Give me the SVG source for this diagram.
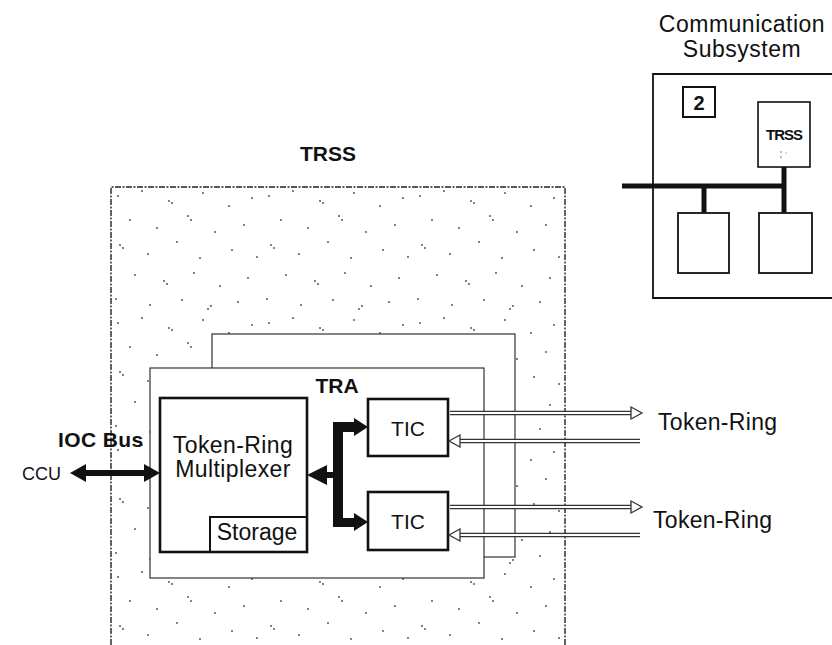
<svg xmlns="http://www.w3.org/2000/svg" width="832" height="645" viewBox="0 0 832 645">
<defs>
<pattern id="stipple" x="111" y="187" width="151" height="127" patternUnits="userSpaceOnUse">
<g fill="#444">
<circle cx="7" cy="9" r="0.9"/><circle cx="31" cy="4" r="0.9"/><circle cx="58" cy="14" r="0.9"/><circle cx="61" cy="16" r="0.9"/><circle cx="92" cy="6" r="0.9"/><circle cx="118" cy="19" r="0.9"/><circle cx="141" cy="11" r="0.9"/>
<circle cx="19" cy="33" r="0.9"/><circle cx="46" cy="41" r="0.9"/><circle cx="77" cy="29" r="0.9"/><circle cx="80" cy="33" r="0.9"/><circle cx="104" cy="45" r="0.9"/><circle cx="133" cy="38" r="0.9"/>
<circle cx="9" cy="58" r="0.9"/><circle cx="12" cy="61" r="0.9"/><circle cx="37" cy="67" r="0.9"/><circle cx="66" cy="55" r="0.9"/><circle cx="89" cy="71" r="0.9"/><circle cx="121" cy="63" r="0.9"/><circle cx="146" cy="70" r="0.9"/>
<circle cx="24" cy="88" r="0.9"/><circle cx="53" cy="94" r="0.9"/><circle cx="56" cy="97" r="0.9"/><circle cx="83" cy="86" r="0.9"/><circle cx="109" cy="99" r="0.9"/><circle cx="137" cy="91" r="0.9"/>
<circle cx="5" cy="112" r="0.9"/><circle cx="39" cy="118" r="0.9"/><circle cx="71" cy="113" r="0.9"/><circle cx="97" cy="122" r="0.9"/><circle cx="100" cy="119" r="0.9"/><circle cx="127" cy="115" r="0.9"/>
</g>
</pattern>
</defs>
<style>
text{font-family:"Liberation Sans",Arial,sans-serif;fill:#111}
.lbl{font-size:23px}
.b{font-weight:bold}
.card{fill:#fff;stroke:#333;stroke-width:1.2}
.box{fill:#fff;stroke:#111;stroke-width:2.6}
.thin{fill:#fff;stroke:#111;stroke-width:1.8}
.dl-o{stroke:#333;stroke-width:4.6;fill:none}
.dl-i{stroke:#fff;stroke-width:2;fill:none}
.ah{fill:#fff;stroke:#333;stroke-width:1.3}
</style>
<rect width="832" height="645" fill="#fff"/>

<g id="trss">
<rect x="111" y="187" width="454" height="460" fill="url(#stipple)"/>
<path d="M111,645 V187 H565 V645" fill="none" stroke="#222" stroke-width="1.4" stroke-dasharray="6 1.5 2 1.5"/>
<text x="328" y="161" class="b" font-size="21" text-anchor="middle">TRSS</text>
</g>

<g id="tra-back">
<rect x="212" y="334" width="303" height="223" class="card"/>
</g>

<g id="tra">
<rect x="150" y="368" width="334" height="210" class="card"/>
<text x="337" y="393" class="b" font-size="21" text-anchor="middle">TRA</text>
</g>

<g id="multiplexer">
<rect x="160" y="398" width="147" height="154" class="box"/>
<text x="233" y="453" class="lbl" text-anchor="middle" letter-spacing="0.4">Token-Ring</text>
<text x="233" y="477" class="lbl" text-anchor="middle" letter-spacing="0.4">Multiplexer</text>
</g>
<g id="storage">
<rect x="210" y="517" width="97" height="35" fill="none" stroke="#111" stroke-width="2"/>
<text x="257" y="540" class="lbl" text-anchor="middle">Storage</text>
</g>

<g id="tic1">
<rect x="368" y="399" width="80" height="57" class="box"/>
<text x="408" y="436" font-size="21" text-anchor="middle">TIC</text>
</g>
<g id="tic2">
<rect x="368" y="492" width="80" height="58" class="box"/>
<text x="408" y="529" font-size="21" text-anchor="middle">TIC</text>
</g>

<g id="labels">
<text x="58" y="447" class="b" font-size="21" letter-spacing="0.4">IOC Bus</text>
<text x="22" y="480" font-size="18">CCU</text>
<text x="658" y="430" class="lbl" letter-spacing="0.3">Token-Ring</text>
<text x="653" y="528" class="lbl" letter-spacing="0.3">Token-Ring</text>
</g>

<g id="connectors">
<path d="M70,473 L86,464 L86,470 L144,470 L144,464 L160,473 L144,482 L144,476 L86,476 L86,482 Z" fill="#111"/>
<path d="M333,422 H354 V418 L368,427 L354,436 V432 H343 V518 H354 V513 L368,522 L354,531 V527 H333 V478 H327 V485 L307,475 L327,465 V472 H333 Z" fill="#111"/>
<path d="M450,413 H632" class="dl-o"/><path d="M450,413 H633" class="dl-i"/>
<polygon points="642,413 631,407 631,419" class="ah"/>
<path d="M640,441 H458" class="dl-o"/><path d="M640,441 H457" class="dl-i"/>
<polygon points="449,441 460,435 460,447" class="ah"/>
<path d="M450,507 H632" class="dl-o"/><path d="M450,507 H633" class="dl-i"/>
<polygon points="642,507 631,501 631,513" class="ah"/>
<path d="M640,535 H458" class="dl-o"/><path d="M640,535 H457" class="dl-i"/>
<polygon points="449,535 460,529 460,541" class="ah"/>
</g>

<g id="comm-subsystem">
<text x="742" y="32" class="lbl" text-anchor="middle" letter-spacing="0.5">Communication</text>
<text x="742" y="57" class="lbl" text-anchor="middle" letter-spacing="0.5">Subsystem</text>
<path d="M833,74 H653 V298 H833" fill="none" stroke="#111" stroke-width="1.8"/>
<g id="cs-num">
<rect x="683" y="87" width="32" height="30" fill="#fff" stroke="#111" stroke-width="2"/>
<text x="699" y="110" class="b" font-size="20" text-anchor="middle">2</text>
</g>
<g id="cs-trss">
<rect x="758" y="102" width="52" height="65" fill="#fff" stroke="#111" stroke-width="1.6"/>
<text x="784" y="140" class="b" font-size="15" text-anchor="middle" letter-spacing="-1">TRSS</text>
<circle cx="781" cy="152" r="0.7" fill="#444"/><circle cx="781" cy="157" r="0.7" fill="#444"/><circle cx="786" cy="153" r="0.6" fill="#444"/>
</g>
<g id="cs-bus">
<path d="M622,186 H786 M704,186 V213 M784,167 V213" stroke="#111" stroke-width="5" fill="none"/>
</g>
<g id="cs-box1"><rect x="678" y="213" width="51" height="60" class="thin"/></g>
<g id="cs-box2"><rect x="759" y="213" width="53" height="60" class="thin"/></g>
</g>
</svg>
